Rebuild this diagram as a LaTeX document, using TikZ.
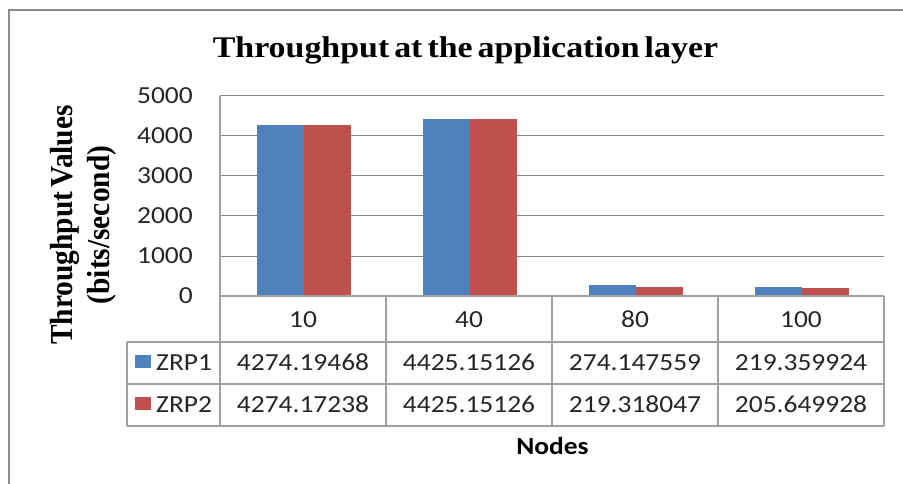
\documentclass[tikz,border=0pt]{standalone}
\usepackage{fontspec}
\newfontfamily\calfont[FakeStretch=1.12]{Carlito}
\newfontfamily\titlefont[FakeStretch=1.13]{Liberation Serif}
\newfontfamily\ylabfont[FakeStretch=0.92]{Liberation Serif}
\definecolor{zblue}{HTML}{4F81BD}
\definecolor{zred}{HTML}{C0504D}
\definecolor{gridc}{HTML}{868686}
\definecolor{tablec}{HTML}{A0A0A0}
\definecolor{framec}{HTML}{8C8C8C}
\definecolor{txt}{HTML}{262626}
\begin{document}
\begin{tikzpicture}[x=1pt,y=-1pt,
  lab/.style={font=\calfont\fontsize{24.5}{28}\selectfont, inner sep=0pt, text=txt, anchor=base},
  tick/.style={lab, anchor=base east},
  gridline/.style={draw=gridc, line width=1pt},
  tabline/.style={draw=tablec, line width=1.3pt},
  bluebar/.style={fill=zblue},
  redbar/.style={fill=zred}]
\useasboundingbox (0,0) rectangle (903,484);
% outer frame
\draw[framec, line width=2pt] (9,484) -- (9,10) -- (903,10);
% title
\node[inner sep=0pt, anchor=base, text=black,
  font={\titlefont\bfseries\fontsize{30}{34}\selectfont\spaceskip=5pt\relax}]
  (title) at (465.5,58) {Throughput at the application layer};
% y axis label
\node[rotate=90, inner sep=0pt, text=black, anchor=center,
  font={\ylabfont\bfseries\fontsize{32}{37}\selectfont\spaceskip=4pt\relax}]
  (ylab) at (84,225) {\renewcommand\arraystretch{1}\begin{tabular}{@{}c@{}}Throughput Values\\(bits/second)\end{tabular}};
% gridlines
\foreach \v in {1,...,5}
  \draw[gridline] (220,{296-40*\v}) -- (884,{296-40*\v});
% tick labels
\foreach \v/\t in {0/0,1/1000,2/2000,3/3000,4/4000,5/5000}
  \node[tick] (t\v) at (193,{303.3-40*\v}) {\t};
% bars
\foreach \i/\a/\b in {0/4274.19468/4274.17238, 1/4425.15126/4425.15126, 2/274.147559/219.318047, 3/219.359924/205.649928}{
  \fill[bluebar] ({304+166*\i-47},296) rectangle ({304+166*\i},{296-0.04*\a});
  \fill[redbar] ({304+166*\i},296) rectangle ({304+166*\i+47},{296-0.04*\b});
}
% table lines
\draw[tabline] (220,96) -- (220,426);
\draw[tabline] (220,296) -- (884,296);
\draw[tabline] (127,342) -- (884,342);
\draw[tabline] (127,384) -- (884,384);
\draw[tabline] (127,426) -- (884,426);
\draw[tabline] (127,342) -- (127,426);
\foreach \x in {386,552,718,884}
  \draw[tabline] (\x,296) -- (\x,426);
% header row
\foreach \i/\t in {0/10,1/40,2/80,3/100}
  \node[lab] (h\i) at ({303+166*\i},327) {\t};
% legend keys and series names
\fill[bluebar] (135,355) rectangle (151,368);
\fill[redbar] (135,397) rectangle (151,410);
\node[lab, anchor=base west] (s1) at (156,370.5) {ZRP1};
\node[lab, anchor=base west] (s2) at (156,412.5) {ZRP2};
% values
\foreach \i/\t in {0/4274.19468,1/4425.15126,2/274.147559,3/219.359924}
  \node[lab] (a\i) at ({303+166*\i},370.5) {\t};
\foreach \i/\t in {0/4274.17238,1/4425.15126,2/219.318047,3/205.649928}
  \node[lab] (b\i) at ({303+166*\i},412.5) {\t};
% x axis title
\node[lab, font=\calfont\bfseries\fontsize{24.5}{28}\selectfont, text=black]
  (xlab) at (552.5,454) {Nodes};
\end{tikzpicture}
\end{document}
